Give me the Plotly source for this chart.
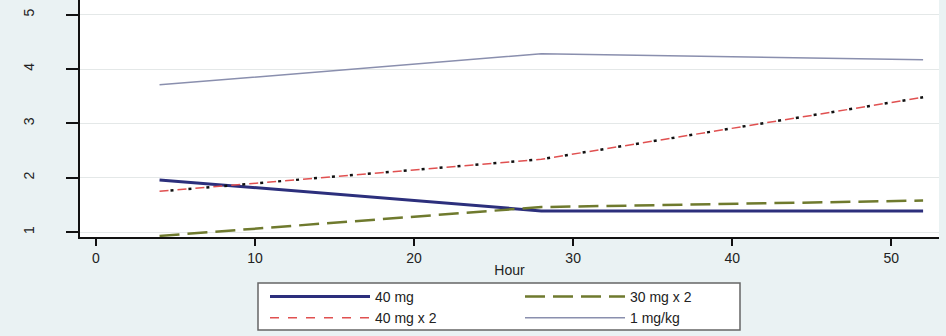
import plotly.graph_objects as go

hours = [4, 28, 52]
mg40 = [1.96, 1.39, 1.39]
mg30x2 = [0.93, 1.46, 1.58]
mg40x2 = [1.75, 2.34, 3.48]
mgkg1 = [3.71, 4.28, 4.17]

x_ticks = [0, 10, 20, 30, 40, 50]
y_ticks = [1, 2, 3, 4, 5]

fig = go.Figure()
fig.add_trace(go.Scatter(x=hours, y=mg40, mode="lines", name="40 mg", legend="legend",
                         line=dict(color="#2c2f7c", width=3)))
fig.add_trace(go.Scatter(x=hours, y=mg30x2, mode="lines", name="30 mg x 2", legend="legend2",
                         line=dict(color="#6f7a2e", width=2.5, dash="20px,8px")))
fig.add_trace(go.Scatter(x=hours, y=mg40x2, mode="lines", name="40 mg x 2", legend="legend",
                         line=dict(color="#e05050", width=1.5, dash="9px,9px")))
fig.add_trace(go.Scatter(x=hours, y=mg40x2, mode="lines", name="40 mg x 2 dots",
                         showlegend=False,
                         line=dict(color="#111111", width=2.5, dash="0px,11px,3px,4px")))
fig.add_trace(go.Scatter(x=hours, y=mgkg1, mode="lines", name="1 mg/kg", legend="legend2",
                         line=dict(color="#8a8fae", width=1.5)))

leg_common = dict(
    orientation="v", xref="container", yref="container", xanchor="left", yanchor="top",
    bgcolor="rgba(0,0,0,0)", borderwidth=0, itemwidth=100, tracegroupgap=0,
    font=dict(size=14, color="#222222"),
)

fig.update_layout(
    width=946, height=336,
    margin=dict(l=80, r=7, t=0, b=99, autoexpand=False),
    paper_bgcolor="#eaf2f3",
    plot_bgcolor="#ffffff",
    font=dict(family="Liberation Sans, Arial, sans-serif", size=14, color="#222222"),
    showlegend=True,
    legend=dict(x=265 / 946, y=(336 - 281) / 336, **leg_common),
    legend2=dict(x=520 / 946, y=(336 - 281) / 336, **leg_common),
    shapes=[dict(type="rect", xref="paper", yref="paper",
                 x0=(258 - 80) / 859, x1=(740 - 80) / 859,
                 y0=(237 - 283) / 237, y1=(237 - 330) / 237,
                 fillcolor="#ffffff", line=dict(color="#666666", width=1.5),
                 layer="below")],
)
fig.update_xaxes(
    range=[-1, 53], tickvals=x_ticks, ticks="outside", ticklen=7, tickwidth=2,
    tickcolor="#111111", showline=True, linecolor="#111111", linewidth=2,
    showgrid=False, zeroline=False, automargin=False,
    tickfont=dict(size=14, color="#222222"),
    title=dict(text="Hour", standoff=0, font=dict(size=14, color="#222222")),
)
fig.update_yaxes(
    range=[0.91, 5.27], tickvals=y_ticks, ticks="outside", ticklen=12, tickwidth=2,
    tickcolor="#111111", showline=True, linecolor="#111111", linewidth=2,
    showgrid=True, gridcolor="#e4e8e8", gridwidth=1, zeroline=False,
    tickfont=dict(size=14, color="#222222"),
    tickangle=-90, ticklabelstandoff=26, automargin=False,
)

fig.write_html("out.html", config={"displayModeBar": False},
               post_script="document.body.style.margin='0';document.body.style.overflow='hidden';")
